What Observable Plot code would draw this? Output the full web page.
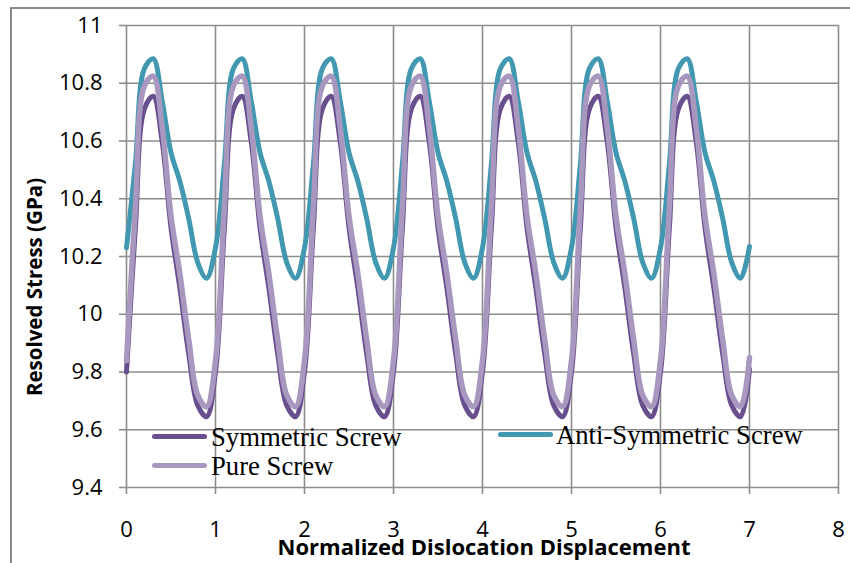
<!DOCTYPE html>
<html>
<head>
<meta charset="utf-8">
<script src="https://cdn.jsdelivr.net/npm/d3@7"></script>
<script src="https://cdn.jsdelivr.net/npm/@observablehq/plot@0.6"></script>
<style>
  body { margin: 0; background: #fff; }
  #wrap { position: relative; width: 850px; height: 563px; overflow: hidden; background: #fff; }
  #border { position: absolute; left: 10px; top: 7px; width: 900px; height: 700px; border: 2px solid #8a8a8a; box-sizing: border-box; }
  #chart { position: absolute; left: 0; top: 0; }
  .lab { position: absolute; white-space: nowrap; }
  .leg { position: absolute; font-family: "Liberation Serif", "Times New Roman", serif; font-size: 26.7px; color: #000; line-height: 1; white-space: nowrap; }
  .sw { position: absolute; height: 5px; border-radius: 3px; }
</style>
</head>
<body>
<div id="wrap">
  <div id="border"></div>
  <div id="chart"></div>
</div>
<script>
// ---- data ----
const xTicks = [0, 1, 2, 3, 4, 5, 6, 7, 8];
const yTicks = [9.4, 9.6, 9.8, 10, 10.2, 10.4, 10.6, 10.8, 11];
const seriesNames = ["Symmetric Screw", "Anti-Symmetric Screw", "Pure Screw"];
const seriesColors = ["#6a4f8f", "#4298b0", "#a898c0"];
// x = 0, 0.1, 0.2, ... 7.0
const symmetric = [
  9.80,10.30,10.71,10.755,10.60,10.30,10.09,9.86,9.685,9.645,
  9.80,10.30,10.71,10.755,10.60,10.30,10.09,9.86,9.685,9.645,
  9.80,10.30,10.71,10.755,10.60,10.30,10.09,9.86,9.685,9.645,
  9.80,10.30,10.71,10.755,10.60,10.30,10.09,9.86,9.685,9.645,
  9.80,10.30,10.71,10.755,10.60,10.30,10.09,9.86,9.685,9.645,
  9.80,10.30,10.71,10.755,10.60,10.30,10.09,9.86,9.685,9.645,
  9.80,10.30,10.71,10.755,10.60,10.30,10.09,9.86,9.685,9.645,
  9.81
];
const antiSymmetric = [
  10.23,10.52,10.85,10.885,10.74,10.56,10.46,10.33,10.18,10.125,
  10.23,10.52,10.85,10.885,10.74,10.56,10.46,10.33,10.18,10.125,
  10.23,10.52,10.85,10.885,10.74,10.56,10.46,10.33,10.18,10.125,
  10.23,10.52,10.85,10.885,10.74,10.56,10.46,10.33,10.18,10.125,
  10.23,10.52,10.85,10.885,10.74,10.56,10.46,10.33,10.18,10.125,
  10.23,10.52,10.85,10.885,10.74,10.56,10.46,10.33,10.18,10.125,
  10.23,10.52,10.85,10.885,10.74,10.56,10.46,10.33,10.18,10.125,
  10.235
];
const pure = [
  9.84,10.37,10.79,10.825,10.65,10.34,10.14,9.91,9.72,9.68,
  9.84,10.37,10.79,10.825,10.65,10.34,10.14,9.91,9.72,9.68,
  9.84,10.37,10.79,10.825,10.65,10.34,10.14,9.91,9.72,9.68,
  9.84,10.37,10.79,10.825,10.65,10.34,10.14,9.91,9.72,9.68,
  9.84,10.37,10.79,10.825,10.65,10.34,10.14,9.91,9.72,9.68,
  9.84,10.37,10.79,10.825,10.65,10.34,10.14,9.91,9.72,9.68,
  9.84,10.37,10.79,10.825,10.65,10.34,10.14,9.91,9.72,9.68,
  9.85
];
const xLabel = "Normalized Dislocation Displacement";
const yLabel = "Resolved Stress (GPa)";

// ---- build ----
const toRows = (arr) => arr.map((v, i) => ({x: i / 10, y: v}));
const rowsSym = toRows(symmetric);
const rowsAnti = toRows(antiSymmetric);
const rowsPure = toRows(pure);
const grid = "#8c8c8c";

const chart = Plot.plot({
  width: 850,
  height: 563,
  marginLeft: 126,
  marginRight: 12,
  marginTop: 25,
  marginBottom: 76,
  style: {fontFamily: "'Open Sans', sans-serif", fontSize: "22px", color: "#000", background: "transparent", overflow: "visible"},
  x: {domain: [0, 8]},
  y: {domain: [9.4, 11]},
  marks: [
    Plot.ruleX(xTicks, {x: d => d, stroke: grid, strokeWidth: 1.6}),
    Plot.ruleY(yTicks, {y: d => d, stroke: grid, strokeWidth: 1.6}),
    Plot.axisY({ticks: yTicks, tickSize: 7, tickPadding: 17, label: null, stroke: grid, strokeWidth: 1.6, fill: "#000", tickFormat: d => String(d)}),
    Plot.axisX({ticks: xTicks, tickSize: 7, tickPadding: 27, label: null, stroke: grid, strokeWidth: 1.6, fill: "#000", tickFormat: d => String(d)}),
    Plot.line(rowsSym, {x: "x", y: "y", stroke: seriesColors[0], strokeWidth: 5, curve: "catmull-rom", strokeLinecap: "round", strokeLinejoin: "round"}),
    Plot.line(rowsAnti, {x: "x", y: "y", stroke: seriesColors[1], strokeWidth: 5, curve: "catmull-rom", strokeLinecap: "round", strokeLinejoin: "round"}),
    Plot.line(rowsPure, {x: "x", y: "y", stroke: seriesColors[2], strokeWidth: 5.5, curve: "catmull-rom", strokeLinecap: "round", strokeLinejoin: "round"})
  ]
});
document.getElementById("chart").appendChild(chart);

const wrap = document.getElementById("wrap");
function addDiv(cls, style, text) {
  const d = document.createElement("div");
  d.className = cls;
  Object.assign(d.style, style);
  if (text != null) d.textContent = text;
  wrap.appendChild(d);
  return d;
}
// axis titles
addDiv("lab", {left: "484px", top: "546px", transform: "translate(-50%,-50%)", fontFamily: "'Open Sans', sans-serif", fontWeight: "bold", fontSize: "22px", lineHeight: "1"}, xLabel);
addDiv("lab", {left: "34px", top: "287px", transform: "translate(-50%,-50%) rotate(-90deg)", fontFamily: "'Open Sans', sans-serif", fontWeight: "bold", fontSize: "20.5px", lineHeight: "1"}, yLabel);

// legend
const legendPos = [
  {sx: 152, sy: 434, tx: 211, ty: 424},
  {sx: 498, sy: 432, tx: 556, ty: 422},
  {sx: 152, sy: 463, tx: 211, ty: 453}
];
seriesNames.forEach((name, i) => {
  const p = legendPos[i];
  addDiv("sw", {left: p.sx + "px", top: p.sy + "px", width: "55px", background: seriesColors[i]});
  addDiv("leg", {left: p.tx + "px", top: p.ty + "px"}, name);
});
</script>
</body>
</html>
